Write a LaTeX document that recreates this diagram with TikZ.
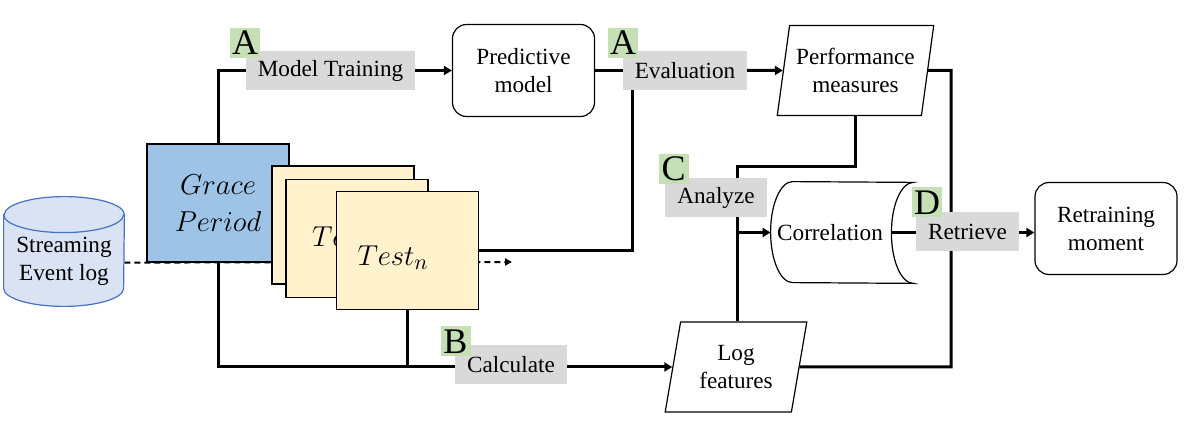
\documentclass[tikz,border=0pt]{standalone}
\usepackage{fontspec}
\setmainfont{Liberation Serif}
\usetikzlibrary{shapes.geometric,arrows.meta,backgrounds}
\definecolor{cylfill}{HTML}{DAE3F3}
\definecolor{cyldraw}{HTML}{4472C4}
\definecolor{gracefill}{HTML}{9DC3E6}
\definecolor{testfill}{HTML}{FFF2CC}
\definecolor{tagfill}{HTML}{D9D9D9}
\definecolor{letfill}{HTML}{C5E0B4}

\begin{document}
\begin{tikzpicture}
      [%%%%%%%%%%%%%%%%%%%%%%%%%%%%%%
      x=0.5pt,y=-0.5pt,
      lbl/.style={font=\fontsize{11.6}{14}\selectfont},
      box/.style={rectangle,draw=black,line width=0.6pt,minimum width=71pt,minimum height=59pt,align=center,font=\fontsize{15.5}{18.5}\selectfont},
      testbox/.style={box,fill=testfill,text width=50pt,inner xsep=10.5pt,align=left},
      rbox/.style={rectangle,rounded corners=7pt,draw=black,fill=white,line width=0.6pt,minimum width=71pt,minimum height=46pt,align=center,lbl},
      datab/.style={trapezium,trapezium left angle=78,trapezium right angle=102,trapezium stretches=true,draw=black,fill=white,line width=0.6pt,minimum height=45pt,align=center,lbl},
      tag/.style={fill=tagfill,inner xsep=6pt,inner ysep=0pt,minimum height=19.5pt,lbl},
      lettr/.style={fill=letfill,inner sep=0pt,minimum size=15pt,font=\fontsize{18}{18}\selectfont},
      conn/.style={line width=1.5pt},
      arr/.style={conn,-{Triangle[length=4pt,width=4.5pt]}},
      ]%%%%%%%%%%%%%%%%%%%%%%%%%%%%%%
      \useasboundingbox (0,0) rectangle (1190,422);

      % streaming log as a cylinder
      \node[rectangle,minimum width=60pt,minimum height=54.5pt,inner sep=0pt] (strm) at (64,251.5) {};
      \filldraw[draw=cyldraw,fill=cylfill,line width=0.6pt] ([yshift=-9pt]strm.north west) -- ([yshift=9pt]strm.south west)
        arc[start angle=180,end angle=360,x radius=30pt,y radius=9pt] -- ([yshift=-9pt]strm.north east)
        arc[start angle=0,end angle=180,x radius=30pt,y radius=9pt] -- cycle;
      \draw[draw=cyldraw,line width=0.6pt] ([yshift=-9pt]strm.north west) arc[start angle=180,end angle=360,x radius=30pt,y radius=9pt];
      \node[align=center,lbl] (strmtxt) at (64,261) {Streaming\\Event log};

      \node[box,fill=gracefill] (grace) at (218,203) {$Grace$\\$Period$};
      \node[testbox] (t1) at (343,225) {};
      \node[testbox,inner xsep=13pt,text width=45pt] (t2) at (357,238.5) {$Test_2$};
      \node[testbox] (t3) at (407.5,250.5) {\raisebox{-3.5pt}[\height][\depth]{$Test_n$}};

      \node[rbox] (pred) at (523.5,70.5) {Predictive\\model};
      \node[datab,minimum width=77.5pt] (perf) at (855.5,70.5) {Performance\\measures};
      \node[datab,minimum width=71pt] (logf) at (736,367) {Log\\features};
      \node[rectangle,minimum width=83pt,minimum height=50.5pt,inner sep=0pt,lbl] (corr) at (830,232.5) {Correlation};
      \draw[line width=0.6pt] ([xshift=23pt]corr.north west) arc[start angle=90,end angle=270,x radius=11pt,y radius=25.25pt]
        -- (corr.south east) arc[start angle=270,end angle=90,x radius=11pt,y radius=25.25pt] -- cycle;
      \node[rbox] (retr) at (1106,228.5) {Retraining\\moment};

      \coordinate (evj) at (632,70.5);
      \coordinate (cj) at (737,167);
      \coordinate (rj) at (951,367);
      \coordinate (cw) at ([xshift=12pt]corr.west);
      \coordinate (cin) at ([xshift=-11pt]corr.east);
      \coordinate (dend) at (512,262);

      \begin{pgfonlayer}{background}
      \draw[conn] (grace.north) |- (245,70.5);
      \draw[arr] (245,70.5) -- (pred.west);
      \draw[conn] (pred.east) -- (evj) -- (700,70.5);
      \draw[arr] (700,70.5) -- (perf.west);
      \draw[conn] (t3.east) -| (evj);
      \draw[arr] (grace.south) |- (logf.west);
      \draw[conn] (t3.south) -- (t3.south |- logf.west);
      \draw[conn] (perf.south) |- (cj) -- (cj |- logf.north);
      \draw[arr] (cj |- cw) -- (cw);
      \draw[arr] (cin) -- (cin -| retr.west);
      \draw[conn] (perf.east) -| (rj) -- (logf.east);
      \draw[line width=1pt,dash pattern=on 3pt off 2pt,-{Triangle[length=3.5pt,width=3.5pt]}] (strm.east |- grace.south) -- (dend);
      \end{pgfonlayer}

      \node[tag] (mt) at (330.5,70.5) {Model Training};
      \node[tag] (ev) at (685,70.5) {Evaluation};
      \node[tag] (an) at (716,197.5) {Analyze};
      \node[tag] (rv) at (967.5,231.5) {Retrieve};
      \node[tag] (ca) at (511,364.5) {Calculate};

      \node[lettr] (la1) at (245,43) {A};
      \node[lettr] (la2) at (623,43) {A};
      \node[lettr] (lb) at (455.5,341.5) {B};
      \node[lettr] (lc) at (673.5,169) {C};
      \node[lettr] (ld) at (927,202.5) {D};
    \end{tikzpicture}
\end{document}
